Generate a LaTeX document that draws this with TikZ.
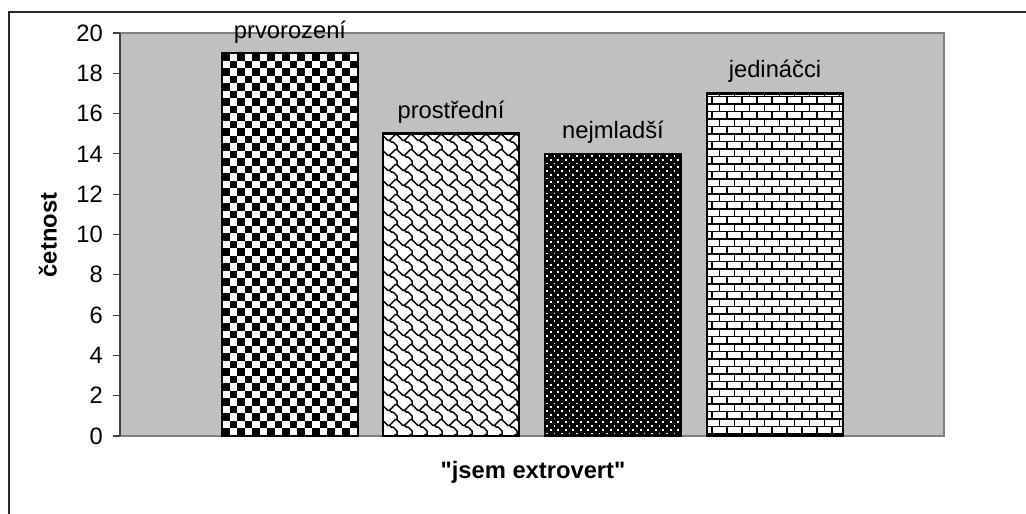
\documentclass[tikz,border=0pt]{standalone}
\usepackage{fontspec}
\setmainfont{Liberation Sans}
\newfontfamily\plainsans{Liberation Sans}
\definecolor{plotgray}{HTML}{C0C0C0}
\definecolor{bordergray}{HTML}{808080}
\definecolor{axisgray}{HTML}{404040}
\begin{document}
\begin{tikzpicture}[x=0.75pt,y=-0.75pt,
  lbl/.style={font=\fontsize{17.8}{20}\selectfont, inner sep=0pt},
  blbl/.style={font=\plainsans\fontsize{17.8}{20}\selectfont\bfseries, inner sep=0pt},
  barframe/.style={draw=black, line width=1.9pt},
  patline/.style={draw=black, line width=1.1pt},
  tickline/.style={draw=axisgray, line width=0.8pt}]
\useasboundingbox (0,0) rectangle (1026,514);
\fill[white] (0,0) rectangle (1026,514);
% outer chart frame
\draw[line width=1.5pt, color=black!85] (9,514) -- (9,12) -- (1026,12);
% plot area
\fill[plotgray] (120,33) rectangle (944,436);
\draw[line width=1.9pt, draw=bordergray] (120,33) -- (944,33) -- (944,436) -- (120,436);
% axis and ticks
\draw[tickline] (120,33) -- (120,436);
\foreach \v in {0,2,...,20}{
  \draw[tickline] (113,436-20.15*\v) -- (120,436-20.15*\v);
  \node[lbl, anchor=east] (t\v) at (103,436-20.15*\v) {\v};
}
% bar 1: checkerboard
\begin{scope}
\clip (222,53.15) rectangle (358,436);
\fill[white] (222,53.15) rectangle (358,436);
\foreach \i in {0,...,9}{\foreach \j in {0,...,25}{
  \fill[black] (222+15*\i,53.15+15*\j) rectangle ++(7.5,7.5);
  \fill[black] (229.5+15*\i,60.65+15*\j) rectangle ++(7.5,7.5);
}}
\end{scope}
\draw[barframe] (222,53.15) rectangle (358,436);
% bar 2: shingle
\begin{scope}
\clip (383,133.75) rectangle (519,436);
\fill[white] (383,133.75) rectangle (519,436);
\foreach \i in {-1,...,9}{\foreach \j in {-1,...,20}{
  \begin{scope}[shift={(383+15*\i,133.75+15*\j)}, scale=1.875]
  \draw[patline, line join=round] (0.5,1.5) -- (1.5,2.5) -- (2.5,3.5) -- (3.5,3.5) -- (4.5,4.5) -- (5.5,4.5) -- (6.5,5.5) -- (7.5,6.5) -- (7.5,8.5) -- (8.5,9.5);
  \draw[patline, line join=round] (3.5,3.5) -- (4.5,2.5) -- (5.5,1.5) -- (6.5,0.5) -- (7.5,0.5);
  \end{scope}
}}
\end{scope}
\draw[barframe] (383,133.75) rectangle (519,436);
% bar 3: dotted dark
\begin{scope}
\clip (545,153.9) rectangle (681,436);
\fill[black] (545,153.9) rectangle (681,436);
\foreach \i in {0,...,18}{\foreach \j in {0,...,37}{
  \fill[white] (546+7.5*\i,155+7.5*\j) rectangle ++(1.8,1.8);
  \fill[white] (549.75+7.5*\i,158.75+7.5*\j) rectangle ++(1.8,1.8);
}}
\end{scope}
\draw[barframe] (545,153.9) rectangle (681,436);
% bar 4: bricks
\begin{scope}
\clip (707,93.45) rectangle (843,436);
\fill[white] (707,93.45) rectangle (843,436);
\foreach \k in {0,...,46}{
  \draw[patline] (707,96.5+7.5*\k) -- (843,96.5+7.5*\k);
}
\foreach \k in {-1,...,23}{\foreach \m in {0,...,9}{
  \draw[patline] (712+15*\m,96.5+15*\k) -- ++(0,7.5);
  \draw[patline] (719.5+15*\m,104+15*\k) -- ++(0,7.5);
}}
\end{scope}
\draw[barframe] (707,93.45) rectangle (843,436);
% bar labels
\node[lbl, anchor=base] (l1) at (290,38) {prvorození};
\node[lbl, anchor=base] (l2) at (451,118) {prostřední};
\node[lbl, anchor=base] (l3) at (613,138) {nejmladší};
\node[lbl, anchor=base] (l4) at (775,77.5) {jedináčci};
% axis titles
\node[blbl, rotate=90] (ytitle) at (48,235) {četnost};
\node[blbl] (xtitle) at (533,472) {"jsem extrovert"};
\end{tikzpicture}
\end{document}
